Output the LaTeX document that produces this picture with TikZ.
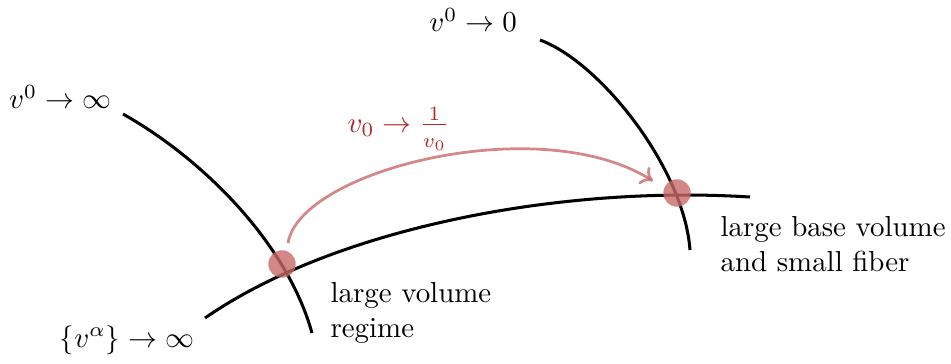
\documentclass[tikz,border=0pt]{standalone}
\usetikzlibrary{arrows.meta}
\definecolor{dotred}{RGB}{200,105,105}
\definecolor{labred}{RGB}{180,35,40}
\tikzset{
  curve/.style={line width=1.05pt, black},
  redarrow/.style={line width=0.95pt, draw=dotred, draw opacity=0.8, -{To[length=4pt,width=7pt]}},
  reddot/.style={circle, fill=dotred, fill opacity=0.8, minimum size=9.5pt, inner sep=0pt},
  lab/.style={inner sep=0pt, font=\normalsize},
  desc/.style={inner sep=0pt, align=left, anchor=west, font=\normalsize, text depth=0pt}
}
\begin{document}
\begin{tikzpicture}[x=0.346pt, y=-0.346pt]
\useasboundingbox (0,0) rectangle (951,363);
% curves
\coordinate (c1s) at (123,114);
\coordinate (c1e) at (312,333);
\coordinate (c2s) at (205,318);
\coordinate (c2e) at (750,197);
\coordinate (c3s) at (540,40);
\coordinate (c3e) at (690,250);
\draw[curve] (c1s) .. controls (203,159) and (287,243) .. (c1e);
\draw[curve] (c2s) .. controls (335,228) and (560,185) .. (c2e);
\draw[curve] (c3s) .. controls (600,62) and (684,168) .. (c3e);
% dots
\node[reddot] (p1) at (282,264) {};
\node[reddot] (p2) at (677,193) {};
% arrow
\coordinate (as) at (288,243);
\coordinate (ae) at (653,181);
\draw[redarrow] (as) .. controls (300,170) and (540,110) .. (ae);
\node[lab, text=labred, anchor=base west] (rl) at (347,132)
  {$v_0\to\frac{1}{\raisebox{-2pt}{$\scriptstyle v_0$}}$};
% labels
\node[lab] (l1) at (473,20) {$v^0\to 0$};
\node[lab] (l2) at (60,97) {$v^0\to\infty$};
\node[lab] (l3) at (127,340) {$\{v^\alpha\}\to\infty$};
\node[desc] (d1) at (330,310) {large volume\\regime};
\node[desc] (d2) at (720,244) {large base volume\\and small fiber};
\end{tikzpicture}
\end{document}
